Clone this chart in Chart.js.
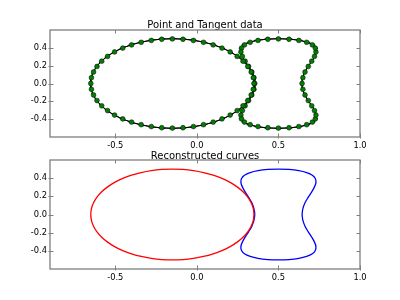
<!DOCTYPE html>
<html>
<head>
<meta charset="utf-8">
<script src="https://cdn.jsdelivr.net/npm/chart.js@4/dist/chart.umd.min.js"></script>
<style>
  html, body { margin: 0; padding: 0; background: #fff; }
  #wrap { position: relative; width: 400px; height: 300px; overflow: hidden; }
  canvas { position: absolute; left: 0; }
  #top { top: 0; }
  #bottom { top: 140px; }
</style>
</head>
<body>
<div id="wrap">
  <canvas id="top" width="400" height="150"></canvas>
  <canvas id="bottom" width="400" height="160"></canvas>
</div>
<script>
// Titles and ticks
const topTitle = "Point and Tangent data";
const bottomTitle = "Reconstructed curves";
const xTicks = [-0.5, 0.0, 0.5, 1.0];
const yTicks = [-0.4, -0.2, 0.0, 0.2, 0.4];

const ellipseX = [0.350, 0.346, 0.333, 0.312, 0.283, 0.247, 0.204, 0.154, 0.100, 0.041, -0.021, -0.085,
  -0.150, -0.215, -0.279, -0.341, -0.400, -0.454, -0.504, -0.547, -0.583, -0.612, -0.633, -0.646,
  -0.650, -0.646, -0.633, -0.612, -0.583, -0.547, -0.504, -0.454, -0.400, -0.341, -0.279, -0.215,
  -0.150, -0.085, -0.021, 0.041, 0.100, 0.154, 0.204, 0.247, 0.283, 0.312, 0.333, 0.346];
const ellipseY = [0.000, 0.065, 0.129, 0.191, 0.250, 0.304, 0.354, 0.397, 0.433, 0.462, 0.483, 0.496,
  0.500, 0.496, 0.483, 0.462, 0.433, 0.397, 0.354, 0.304, 0.250, 0.191, 0.129, 0.065,
  0.000, -0.065, -0.129, -0.191, -0.250, -0.304, -0.354, -0.397, -0.433, -0.462, -0.483, -0.496,
  -0.500, -0.496, -0.483, -0.462, -0.433, -0.397, -0.354, -0.304, -0.250, -0.191, -0.129, -0.065];

const hourglassX = [0.645, 0.650, 0.663, 0.683, 0.704, 0.721, 0.730, 0.726, 0.708, 0.673, 0.625, 0.565,
  0.500, 0.435, 0.375, 0.327, 0.292, 0.274, 0.270, 0.279, 0.296, 0.317, 0.337, 0.350,
  0.355, 0.350, 0.337, 0.317, 0.296, 0.279, 0.270, 0.274, 0.292, 0.327, 0.375, 0.435,
  0.500, 0.565, 0.625, 0.673, 0.708, 0.726, 0.730, 0.721, 0.704, 0.683, 0.663, 0.650];
const hourglassY = [0.000, 0.065, 0.129, 0.191, 0.250, 0.304, 0.354, 0.397, 0.433, 0.462, 0.483, 0.496,
  0.500, 0.496, 0.483, 0.462, 0.433, 0.397, 0.354, 0.304, 0.250, 0.191, 0.129, 0.065,
  0.000, -0.065, -0.129, -0.191, -0.250, -0.304, -0.354, -0.397, -0.433, -0.462, -0.483, -0.496,
  -0.500, -0.496, -0.483, -0.462, -0.433, -0.397, -0.354, -0.304, -0.250, -0.191, -0.129, -0.065];

Chart.defaults.font.family = "'DejaVu Sans', sans-serif";
Chart.defaults.color = "#000";

function points(xs, ys) {
  return xs.map((x, i) => ({ x: x, y: ys[i] }));
}

function closed(xs, ys) {
  const p = points(xs, ys);
  return p.concat([p[0]]);
}

// short tangent segment through every sample, gaps between them
function tangents(xs, ys) {
  const n = xs.length, out = [];
  for (let i = 0; i < n; i++) {
    const a = (i - 1 + n) % n, b = (i + 1) % n;
    const dx = (xs[b] - xs[a]) * 0.65, dy = (ys[b] - ys[a]) * 0.65;
    out.push({ x: xs[i] - dx, y: ys[i] - dy });
    out.push({ x: xs[i] + dx, y: ys[i] + dy });
    out.push({ x: xs[i], y: null });
  }
  return out;
}

// matplotlib-like box with inward ticks
const framePlugin = {
  id: "frame",
  afterDraw(chart) {
    const { ctx, chartArea: a, scales } = chart;
    ctx.save();
    ctx.strokeStyle = "#7f7f7f";
    ctx.lineWidth = 1.3;
    ctx.strokeRect(a.left, a.top, a.width, a.height);
    ctx.lineWidth = 1;
    ctx.beginPath();
    xTicks.forEach(v => {
      const px = Math.round(scales.x.getPixelForValue(v)) + 0.5;
      ctx.moveTo(px, a.bottom + 1.5); ctx.lineTo(px, a.bottom - 3.5);
      ctx.moveTo(px, a.top); ctx.lineTo(px, a.top + 3.5);
    });
    yTicks.forEach(v => {
      const py = Math.round(scales.y.getPixelForValue(v)) + 0.5;
      ctx.moveTo(a.left - 1.5, py); ctx.lineTo(a.left + 3.5, py);
      ctx.moveTo(a.right, py); ctx.lineTo(a.right - 3.5, py);
    });
    ctx.stroke();
    ctx.restore();
  }
};

function makeOptions(title, titlePad, xHeight) {
  return {
    responsive: false,
    animation: false,
    devicePixelRatio: 1,
    layout: { padding: { left: 0, right: 40, top: 0, bottom: 0 } },
    plugins: {
      legend: { display: false },
      tooltip: { enabled: false },
      title: {
        display: true,
        text: title,
        fullSize: false,
        color: "#000",
        font: { size: 10, weight: "normal", lineHeight: 1 },
        padding: titlePad
      }
    },
    scales: {
      x: {
        type: "linear",
        min: -0.9,
        max: 1.0,
        grid: { display: false, drawTicks: false },
        border: { display: false },
        afterBuildTicks: s => { s.ticks = xTicks.map(v => ({ value: v })); },
        afterFit: s => { s.height = xHeight; },
        ticks: { padding: 4, font: { size: 8.3 }, maxRotation: 0, callback: v => v.toFixed(1) }
      },
      y: {
        type: "linear",
        min: -0.6,
        max: 0.6,
        grid: { display: false, drawTicks: false },
        border: { display: false },
        afterBuildTicks: s => { s.ticks = yTicks.map(v => ({ value: v })); },
        afterFit: s => { s.width = 50; },
        ticks: { padding: 3, font: { size: 8.3 }, callback: v => v.toFixed(1) }
      }
    }
  };
}

const dotStyle = {
  showLine: false,
  pointRadius: 2.4,
  pointBorderWidth: 0.5,
  pointBorderColor: "#000",
  pointBackgroundColor: "#008000"
};

new Chart(document.getElementById("top"), {
  type: "scatter",
  data: {
    datasets: [
      Object.assign({ label: "ellipse points", data: points(ellipseX, ellipseY) }, dotStyle),
      Object.assign({ label: "hourglass points", data: points(hourglassX, hourglassY) }, dotStyle),
      {
        label: "ellipse tangents",
        data: tangents(ellipseX, ellipseY),
        showLine: true, spanGaps: false, pointRadius: 0,
        borderColor: "#000", borderWidth: 1
      },
      {
        label: "hourglass tangents",
        data: tangents(hourglassX, hourglassY),
        showLine: true, spanGaps: false, pointRadius: 0,
        borderColor: "#000", borderWidth: 1
      }
    ]
  },
  options: makeOptions(topTitle, { top: 20, bottom: 0 }, 13),
  plugins: [framePlugin]
});

new Chart(document.getElementById("bottom"), {
  type: "scatter",
  data: {
    datasets: [
      {
        label: "ellipse",
        data: closed(ellipseX, ellipseY),
        showLine: true, pointRadius: 0, tension: 0.4,
        borderColor: "#ff0000", borderWidth: 1.3
      },
      {
        label: "hourglass",
        data: closed(hourglassX, hourglassY),
        showLine: true, pointRadius: 0, tension: 0.4,
        borderColor: "#0000ff", borderWidth: 1.3
      }
    ]
  },
  options: makeOptions(bottomTitle, { top: 11, bottom: -1 }, 31),
  plugins: [framePlugin]
});
</script>
</body>
</html>
